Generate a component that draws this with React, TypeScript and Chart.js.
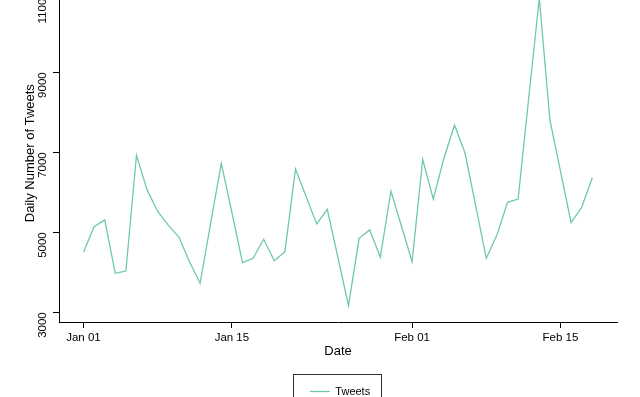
import { useEffect, useRef } from "react";
import { Chart, registerables } from "chart.js";

Chart.register(...registerables);

const FONT = "'Liberation Sans', Arial, Helvetica, sans-serif";

const dates = [
  "Jan 01", "Jan 02", "Jan 03", "Jan 04", "Jan 05", "Jan 06", "Jan 07", "Jan 08", "Jan 09", "Jan 10",
  "Jan 11", "Jan 12", "Jan 13", "Jan 14", "Jan 15", "Jan 16", "Jan 17", "Jan 18", "Jan 19", "Jan 20",
  "Jan 21", "Jan 22", "Jan 23", "Jan 24", "Jan 25", "Jan 26", "Jan 27", "Jan 28", "Jan 29", "Jan 30",
  "Jan 31", "Feb 01", "Feb 02", "Feb 03", "Feb 04", "Feb 05", "Feb 06", "Feb 07", "Feb 08", "Feb 09",
  "Feb 10", "Feb 11", "Feb 12", "Feb 13", "Feb 14", "Feb 15", "Feb 16", "Feb 17", "Feb 18",
];

const tweets = [
  4500, 5140, 5310, 3975, 4030, 6925, 6060, 5520, 5180, 4880,
  4265, 3725, 5230, 6725, 5500, 4240, 4350, 4825, 4290, 4515,
  6580, 5895, 5210, 5575, 4370, 3165, 4850, 5060, 4375, 6030,
  5150, 4265, 6825, 5825, 6850, 7680, 6975, 5660, 4350, 4930,
  5750, 5830, 8350, 10850, 7810, 6520, 5240, 5625, 6365,
];

const xTickDays = [0, 14, 31, 45];
const yTicks = [3000, 5000, 7000, 9000, 11000];
const seriesName = "Tweets";
const xTitle = "Date";
const yTitle = "Daily Number of Tweets";

export default function App() {
  const ref = useRef<HTMLCanvasElement>(null);

  useEffect(() => {
    if (!ref.current) return;
    const points = tweets.map((v, i) => ({ x: i, y: v }));

    const legendFrame = {
      id: "legendFrame",
      afterLayout(chart: any) {
        const lg = chart.legend;
        const ca = chart.chartArea;
        if (lg && ca) {
          lg.left = ca.left + 2;
          lg.right = ca.right + 2;
          lg.width = ca.right - ca.left;
        }
      },
      afterDraw(chart: any) {
        const hb = chart.legend?.legendHitBoxes?.[0];
        if (!hb) return;
        const ctx = chart.ctx;
        ctx.save();
        ctx.strokeStyle = "#333";
        ctx.lineWidth = 1;
        const cy = hb.top + hb.height / 2;
        ctx.strokeRect(
          Math.round(hb.left - 17) + 0.5,
          Math.round(cy - 18) + 0.5,
          Math.round(hb.width + 28),
          40
        );
        ctx.restore();
      },
    };

    const tickFont = { family: FONT, size: 11.5 };
    const titleFont = { family: FONT, size: 13 };
    const gridOpts = {
      display: true,
      drawOnChartArea: false,
      drawTicks: true,
      tickLength: 6,
      tickColor: "#000",
      tickWidth: 1,
    };
    const borderOpts = { display: true, color: "#000", width: 1 };

    const chart = new Chart(ref.current, {
      type: "line",
      data: {
        datasets: [
          {
            label: seriesName,
            data: points,
            borderColor: "#6dc7b3",
            backgroundColor: "#6dc7b3",
            borderWidth: 1.3,
            pointRadius: 0,
            pointStyle: "line",
            fill: false,
            tension: 0,
          },
        ],
      },
      options: {
        animation: false,
        responsive: false,
        maintainAspectRatio: false,
        layout: { padding: { top: 24.3, right: 23, left: 0, bottom: 0 } },
        plugins: {
          tooltip: { enabled: false },
          legend: {
            position: "bottom",
            labels: {
              usePointStyle: true,
              pointStyle: "line",
              pointStyleWidth: 20,
              boxHeight: 11,
              font: { family: FONT, size: 11 },
              color: "#000",
              padding: 10,
            },
          },
        },
        scales: {
          x: {
            type: "linear",
            min: -2.31,
            max: 50.33,
            afterBuildTicks: (s: any) => {
              s.ticks = xTickDays.map((v) => ({ value: v }));
            },
            ticks: {
              callback: (v: any) => dates[v as number],
              font: tickFont,
              color: "#000",
              padding: 3,
              maxRotation: 0,
              autoSkip: false,
            },
            grid: gridOpts,
            border: borderOpts,
            title: {
              display: true,
              text: xTitle,
              font: titleFont,
              color: "#000",
              padding: { top: 0, bottom: 16.5 },
            },
            afterFit: (s: any) => {
              s.height = 54;
            },
          },
          y: {
            type: "linear",
            min: 2757,
            max: 11200,
            afterBuildTicks: (s: any) => {
              s.ticks = yTicks.map((v) => ({ value: v }));
            },
            ticks: {
              callback: (v: any) => String(v),
              minRotation: 90,
              maxRotation: 90,
              crossAlign: "near",
              padding: 10,
              font: tickFont,
              color: "#000",
              autoSkip: false,
            },
            grid: gridOpts,
            border: borderOpts,
            title: {
              display: true,
              text: yTitle,
              font: titleFont,
              color: "#000",
              padding: { top: 22.2, bottom: 0 },
            },
            afterFit: (s: any) => {
              s.width = 59;
            },
          },
        },
      } as any,
      plugins: [legendFrame],
    });

    return () => chart.destroy();
  }, []);

  return (
    <div
      style={{
        position: "fixed",
        left: 0,
        top: 0,
        width: 640,
        height: 397,
        overflow: "hidden",
        background: "#fff",
      }}
    >
      <canvas
        ref={ref}
        width={640}
        height={447}
        style={{ position: "absolute", left: 0, top: -40, width: 640, height: 447 }}
      />
    </div>
  );
}
